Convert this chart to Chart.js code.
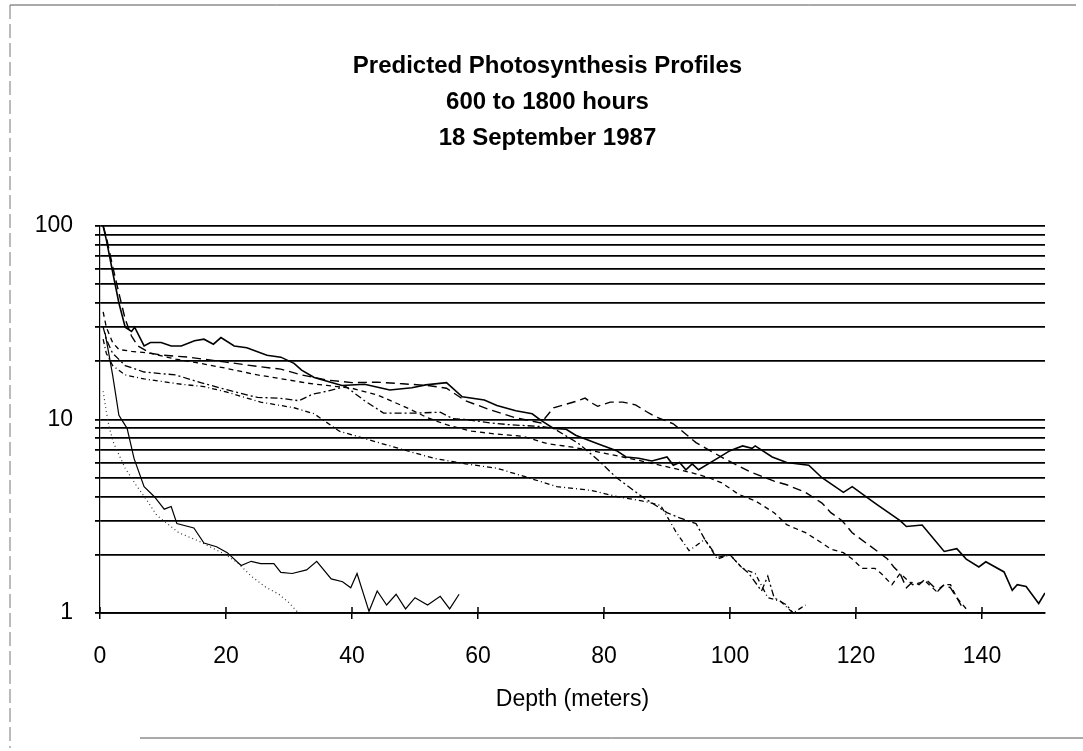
<!DOCTYPE html>
<html>
<head>
<meta charset="utf-8">
<script src="https://cdn.jsdelivr.net/npm/chart.js@4.4.1/dist/chart.umd.min.js"></script>
<style>
html,body{margin:0;padding:0;background:#fff;}
#wrap{position:relative;width:1083px;height:751px;}
</style>
</head>
<body>
<div id="wrap"><canvas id="c" width="1083" height="751"></canvas></div>
<script>
// ---- text ----
const titleLines = ['Predicted Photosynthesis Profiles', '600 to 1800 hours', '18 September 1987'];
const xAxisTitle = 'Depth (meters)';
// ---- ticks ----
const xTicks = [0, 20, 40, 60, 80, 100, 120, 140];
const yGrid = [1, 2, 3, 4, 5, 6, 7, 8, 9, 10, 20, 30, 40, 50, 60, 70, 80, 90, 100];
const yLabels = [1, 10, 100];

// ---- profiles (depth in m, predicted photosynthesis) ----
const p1Depth = [0.8,1.2,2,2.5,3,4.3,5.4,7,8.6,10.2,11.3,12.2,14.9,16.5,18.5,20.2,22.4,24,25.5,27.6,28.7,30.5,32.8,34.4,36.7,38.5,39.8,40.8,42.7,44,45.5,47,48.5,50,52,54,55.5,57];
const p1Value = [28,23.8,17,13.4,10.5,9.0,6.3,4.5,4.0,3.44,3.55,2.9,2.75,2.3,2.2,2.05,1.76,1.85,1.8,1.8,1.62,1.6,1.67,1.85,1.5,1.45,1.35,1.6,1.02,1.3,1.1,1.25,1.05,1.2,1.1,1.22,1.05,1.25];

const p2Depth = [0.5,1,1.5,2.2,4,5.7,7.5,9,12.5,15.7,20,22,24,26.3,28.4,30,31.5];
const p2Value = [14,11,9,7.5,5.6,4.6,3.8,3.2,2.6,2.35,2.0,1.8,1.55,1.36,1.25,1.13,1.0];

const pADepth = [0.5,1,2,3,4,5,5.5,7,8,9.7,11.3,12.9,15,16.5,18,19.2,21.3,23.3,26.5,28.7,30.8,32,34,38.4,42,46,49.5,51.7,55,57.5,61,63,66,68.6,70,72,74,75.5,79,82,83.5,85.5,87.6,90,91,92,93,94,95,98,100,102,103.5,104,106.7,109,112.5,114.6,118,119.4,123,127,128,130.5,134,136,137.5,139.5,140.6,143.5,144.8,145.6,147,148,149,150];
const pAValue = [100,85,58,40,30,28.5,30,24,25,25,24,24,25.5,26,24.5,26.5,24,23.5,21.5,21,19.5,18,16.5,15,15.2,14.2,14.6,15.1,15.5,13.1,12.6,11.8,11.1,10.7,9.9,9,8.9,8.3,7.5,6.9,6.4,6.3,6.1,6.4,5.8,6,5.5,5.9,5.5,6.3,6.9,7.3,7.1,7.3,6.4,6.0,5.8,5.0,4.2,4.5,3.7,3.0,2.8,2.85,2.08,2.15,1.9,1.73,1.84,1.63,1.31,1.4,1.37,1.24,1.12,1.27];

const pBDepth = [0.5,1,2,3,4,5,6,8,10,14,20,25,28.7,32,36,40,44,48,52,55,58,62,66,70,72,75.5,77,78,79,81,83,85,86.7,88,91,94.6,99,103,107,109,112,114.6,116,117.8,119.4,121.6,123.7,125,126,127,128,129,130,131,132,133,134,135,136,137];
const pBValue = [100,88,62,45,33,27,24,22,21.5,21,19.8,18.8,18.2,17,16,15.5,15.6,15.3,15,14.5,12.5,11.2,10.2,9.6,11.5,12.4,12.9,12.2,11.7,12.3,12.3,11.9,11,10.4,9.5,7.6,6.3,5.4,4.8,4.6,4.2,3.7,3.3,3.0,2.6,2.3,2.05,1.9,1.73,1.6,1.35,1.45,1.4,1.5,1.4,1.3,1.4,1.35,1.2,1.05];

const pCDepth = [0.5,1,2,3,5,8,12,16,20,25,30,33,36,40,44,49,52,55,59,63,67,71,75,79,83,87,91,94,96.7,98.7,101.4,104,107,109,112,114.6,116,118,119.4,121,123,124,125.7,127,129,131,132.7,134,135,136,137.5];
const pCValue = [36,30,25,23,22.5,22,20.5,19.5,18.4,17,16,15.4,15,14.5,13.4,11.4,10.2,9.4,8.7,8.4,8.2,7.5,7.2,6.8,6.4,6,5.6,5.3,5.0,4.7,4.1,3.8,3.3,2.86,2.6,2.3,2.14,2.05,1.9,1.7,1.7,1.6,1.4,1.6,1.4,1.46,1.3,1.4,1.4,1.2,1.05];

const pDDepth = [0.5,1,2,4,7,12,16,21,25,28.4,31.6,33.7,36,39,42,45,47,50,54,56,58,62,65,70,72,76,79,82,86,90,92,94.6,96,98,100,101.4,103,105,106,107,109,110];
const pDValue = [30,26,22,19,17.6,17,15.5,14,13,12.9,12.5,13.5,14,14.8,12.5,10.8,10.8,10.8,10.9,10.1,10,9.6,9.4,9.2,9.0,7.5,6.2,5.0,4.0,3.3,3.1,2.9,2.4,1.94,2.0,1.78,1.6,1.3,1.55,1.2,1.1,1.0];

const pEDepth = [0.5,1,2,4,7,13,16.5,20,25.5,30.8,34,38,43,48,53,58,63,68,72.5,78,82,86,89,91.5,93.5,96,98,100,102,104,106,108,110,112];
const pEValue = [26,22,19,17,16.2,15.2,14.8,13.9,12.3,11.5,10.7,8.7,7.8,7,6.3,5.9,5.6,5,4.5,4.3,4,3.8,3.6,2.6,2.1,2.4,1.9,2.0,1.7,1.6,1.2,1.15,1.0,1.1];

function pts(d, v) { return d.map((x, i) => ({ x: x, y: v[i] })); }
const FONT = "'Liberation Sans', Arial, Helvetica, sans-serif";

function ds(label, d, v, dash, width, color) {
  return { label: label, data: pts(d, v), borderColor: color || '#000', borderWidth: width,
    borderDash: dash, pointRadius: 0, fill: false, tension: 0 };
}

const framePlugin = {
  id: 'frame',
  beforeDraw(chart) {
    const c = chart.ctx;
    c.save();
    c.fillStyle = '#fff';
    c.fillRect(0, 0, chart.width, chart.height);
    c.strokeStyle = '#555';
    c.lineWidth = 1;
    c.beginPath();
    c.moveTo(10, 5); c.lineTo(1076, 5);
    c.moveTo(140, 738); c.lineTo(1083, 738);
    c.stroke();
    c.setLineDash([14, 5]);
    c.strokeStyle = '#777';
    c.beginPath();
    c.moveTo(10, 5); c.lineTo(10, 748);
    c.stroke();
    c.restore();
  },
  // inner half of the x-axis tick marks (ticks cross the axis line)
  afterDatasetsDraw(chart) {
    const xs = chart.scales.x, c = chart.ctx, yb = chart.chartArea.bottom;
    c.save();
    c.strokeStyle = '#000';
    c.lineWidth = 1.5;
    c.beginPath();
    xTicks.forEach(v => { const px = xs.getPixelForValue(v); c.moveTo(px, yb); c.lineTo(px, yb - 6); });
    c.stroke();
    c.restore();
  }
};

new Chart(document.getElementById('c'), {
  type: 'line',
  data: {
    datasets: [
      ds('p1', p1Depth, p1Value, [], 1.2),
      ds('p2', p2Depth, p2Value, [1, 3], 1.2, '#333'),
      ds('pE', pEDepth, pEValue, [5, 3, 1, 3], 1.3),
      ds('pD', pDDepth, pDValue, [7, 3, 2, 3], 1.3),
      ds('pC', pCDepth, pCValue, [5, 4], 1.3),
      ds('pB', pBDepth, pBValue, [9, 5], 1.4),
      ds('pA', pADepth, pAValue, [], 1.6)
    ]
  },
  options: {
    responsive: false,
    animation: false,
    devicePixelRatio: 1,
    layout: { padding: { left: 50, right: 38, top: 0, bottom: 38 } },
    plugins: {
      legend: { display: false },
      tooltip: { enabled: false },
      title: {
        display: true, text: titleLines, color: '#000',
        font: { family: FONT, size: 24, weight: 'bold', lineHeight: 1.5 },
        padding: { top: 48, bottom: 70 }
      }
    },
    scales: {
      x: {
        type: 'linear', min: 0, max: 150,
        afterBuildTicks: s => { s.ticks = xTicks.map(v => ({ value: v })); },
        afterFit: s => { s.height = 100; },
        ticks: { color: '#000', font: { family: FONT, size: 23 }, padding: 24, maxRotation: 0, autoSkip: false },
        grid: { drawOnChartArea: false, tickLength: 6, color: '#000', lineWidth: 1.5 },
        border: { color: '#000', width: 1.8 },
        title: { display: true, text: xAxisTitle, color: '#000', font: { family: FONT, size: 23 }, padding: { top: 0, bottom: 0 } }
      },
      y: {
        type: 'logarithmic', min: 1, max: 100,
        afterBuildTicks: s => { s.ticks = yGrid.map(v => ({ value: v })); },
        afterFit: s => { s.width = 50; s._computeLabelArea = () => undefined; },
        ticks: { color: '#000', font: { family: FONT, size: 23 }, padding: 22, autoSkip: false,
          callback: v => (yLabels.indexOf(v) >= 0 ? String(v) : '') },
        grid: { color: '#000', lineWidth: 1.8, tickLength: 5 },
        border: { color: '#000', width: 1.2 }
      }
    }
  },
  plugins: [framePlugin]
});
</script>
</body>
</html>
